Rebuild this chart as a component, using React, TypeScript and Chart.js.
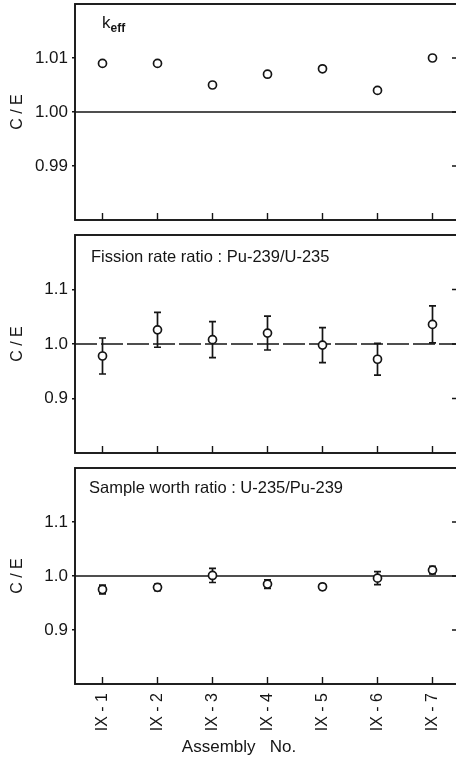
import React, { useEffect, useRef } from 'react';
import { Chart, registerables } from 'chart.js';

Chart.register(...registerables);

// ---- data ----
const assemblies = ['IX - 1', 'IX - 2', 'IX - 3', 'IX - 4', 'IX - 5', 'IX - 6', 'IX - 7'];
const assemblyIndex = [1, 2, 3, 4, 5, 6, 7];

const keffCE = [1.009, 1.009, 1.005, 1.007, 1.008, 1.004, 1.010];

const fissionCE = [0.978, 1.026, 1.008, 1.020, 0.998, 0.972, 1.036];
const fissionErr = [0.033, 0.032, 0.033, 0.031, 0.032, 0.029, 0.034];

const worthCE = [0.975, 0.979, 1.001, 0.985, 0.980, 0.996, 1.011];
const worthErr = [0.008, 0.006, 0.013, 0.008, 0.005, 0.012, 0.007];

const keffTicks = [0.99, 1.0, 1.01];
const ratioTicks = [0.9, 1.0, 1.1];
const keffRange = [0.98, 1.02];
const ratioRange = [0.8, 1.2];
const referenceValue = 1.0;

const yTitle = 'C / E';
const xTitle = 'Assembly   No.';
const fissionLabel = 'Fission rate ratio : Pu-239/U-235';
const worthLabel = 'Sample worth ratio : U-235/Pu-239';

const FONT = "'Liberation Sans', Arial, Helvetica, sans-serif";
const INK = '#151515';

type PanelProps = {
  values: number[];
  errors?: number[];
  yTicks: number[];
  yRange: number[];
  decimals: number;
  kind: 'keff' | 'fission' | 'worth';
  top: number;
  height: number;
  padTop: number;
  xHeight: number;
  showX: boolean;
  refDash: number[];
};

function Panel(p: PanelProps) {
  const ref = useRef<HTMLCanvasElement | null>(null);

  useEffect(() => {
    const canvas = ref.current;
    if (!canvas) return;

    const decor = {
      id: 'decor' + p.kind,
      beforeDatasetsDraw(chart: any) {
        if (!p.errors) return;
        const { ctx, scales } = chart;
        const x = scales.x;
        const y = scales.y;
        ctx.save();
        ctx.strokeStyle = INK;
        ctx.lineWidth = 1.7;
        p.values.forEach((v, i) => {
          const e = p.errors![i];
          const px = x.getPixelForValue(assemblyIndex[i]);
          const t = y.getPixelForValue(v + e);
          const b = y.getPixelForValue(v - e);
          ctx.beginPath();
          ctx.moveTo(px, t);
          ctx.lineTo(px, b);
          ctx.moveTo(px - 3.5, t);
          ctx.lineTo(px + 3.5, t);
          ctx.moveTo(px - 3.5, b);
          ctx.lineTo(px + 3.5, b);
          ctx.stroke();
        });
        ctx.restore();
      },
      afterDraw(chart: any) {
        const { ctx, chartArea: a, scales } = chart;
        const x = scales.x;
        const y = scales.y;
        ctx.save();
        ctx.strokeStyle = INK;
        ctx.lineWidth = 1.9;
        ctx.strokeRect(a.left, a.top, a.right - a.left, a.bottom - a.top);
        ctx.lineWidth = 1.4;
        ctx.beginPath();
        assemblyIndex.forEach((v) => {
          const px = x.getPixelForValue(v);
          ctx.moveTo(px, a.bottom);
          ctx.lineTo(px, a.bottom - 7);
        });
        p.yTicks.forEach((v) => {
          const py = y.getPixelForValue(v);
          ctx.moveTo(a.right, py);
          ctx.lineTo(a.right - 8, py);
        });
        ctx.stroke();

        ctx.fillStyle = INK;
        ctx.textAlign = 'left';
        ctx.textBaseline = 'alphabetic';
        if (p.kind === 'keff') {
          ctx.font = `17px ${FONT}`;
          ctx.fillText('k', 102, a.top + 24);
          ctx.font = `bold 12px ${FONT}`;
          ctx.fillText('eff', 110.5, a.top + 28);
        } else if (p.kind === 'fission') {
          ctx.font = `16.5px ${FONT}`;
          ctx.fillText(fissionLabel, 91, a.top + 27);
        } else {
          ctx.font = `16.5px ${FONT}`;
          ctx.fillText(worthLabel, 89, a.top + 25);
        }
        if (p.showX) {
          ctx.font = `17px ${FONT}`;
          ctx.textAlign = 'center';
          ctx.fillText(xTitle, 239, chart.height - 6);
        }
        ctx.restore();
      },
    };

    const chart = new Chart(canvas, {
      type: 'line',
      data: {
        datasets: [
          {
            data: p.values.map((v, i) => ({ x: assemblyIndex[i], y: v })),
            showLine: false,
            pointRadius: 4,
            pointBorderWidth: 1.7,
            pointBackgroundColor: '#ffffff',
            pointBorderColor: INK,
            borderColor: INK,
          },
          {
            data: [
              { x: 0.5, y: referenceValue },
              { x: 7.5, y: referenceValue },
            ],
            borderColor: INK,
            borderWidth: 1.3,
            borderDash: p.refDash,
            pointRadius: 0,
          },
        ],
      },
      options: {
        animation: false,
        responsive: false,
        devicePixelRatio: 1,
        layout: { autoPadding: false, padding: { top: p.padTop, left: 0, right: 0, bottom: 0 } },
        plugins: { legend: { display: false }, tooltip: { enabled: false } },
        scales: {
          x: {
            type: 'linear',
            min: 0.5,
            max: 7.5,
            afterBuildTicks: (s: any) => {
              s.ticks = assemblyIndex.map((v) => ({ value: v }));
            },
            afterFit: (s: any) => {
              s.height = p.xHeight;
              s.paddingLeft = 0;
              s.paddingRight = 0;
            },
            grid: { display: false, drawTicks: false },
            border: { display: false },
            ticks: {
              display: p.showX,
              autoSkip: false,
              minRotation: 90,
              maxRotation: 90,
              padding: 9,
              color: INK,
              font: { family: FONT, size: 16 },
              callback: (v: any) => assemblies[Number(v) - 1] ?? '',
            },
          },
          y: {
            type: 'linear',
            min: p.yRange[0],
            max: p.yRange[1],
            afterBuildTicks: (s: any) => {
              s.ticks = p.yTicks.map((v) => ({ value: v }));
            },
            afterFit: (s: any) => {
              s.width = 75;
              s.paddingTop = 0;
              s.paddingBottom = 0;
            },
            grid: { drawOnChartArea: false, drawTicks: true, tickLength: 3, color: INK, lineWidth: 1.5 },
            border: { display: false },
            ticks: {
              padding: 4,
              color: INK,
              font: { family: FONT, size: 17 },
              callback: (v: any) => Number(v).toFixed(p.decimals),
            },
            title: {
              display: true,
              text: yTitle,
              color: INK,
              font: { family: FONT, size: 16 },
              padding: { top: 8, bottom: 0 },
            },
          },
        },
      },
      plugins: [decor],
    } as any);

    return () => chart.destroy();
  }, []);

  return (
    <canvas
      ref={ref}
      width={460}
      height={p.height}
      style={{ position: 'absolute', left: 0, top: p.top, width: 460, height: p.height }}
    />
  );
}

export default function App() {
  return (
    <div
      style={{
        position: 'fixed',
        left: 0,
        top: 0,
        width: 456,
        height: 758,
        overflow: 'hidden',
        background: '#ffffff',
      }}
    >
      <Panel
        values={keffCE}
        yTicks={keffTicks}
        yRange={keffRange}
        decimals={2}
        kind="keff"
        top={0}
        height={224}
        padTop={4}
        xHeight={4}
        showX={false}
        refDash={[]}
      />
      <Panel
        values={fissionCE}
        errors={fissionErr}
        yTicks={ratioTicks}
        yRange={ratioRange}
        decimals={1}
        kind="fission"
        top={230}
        height={228}
        padTop={5}
        xHeight={5}
        showX={false}
        refDash={[22, 4]}
      />
      <Panel
        values={worthCE}
        errors={worthErr}
        yTicks={ratioTicks}
        yRange={ratioRange}
        decimals={1}
        kind="worth"
        top={460}
        height={298}
        padTop={8}
        xHeight={74}
        showX={true}
        refDash={[]}
      />
    </div>
  );
}
